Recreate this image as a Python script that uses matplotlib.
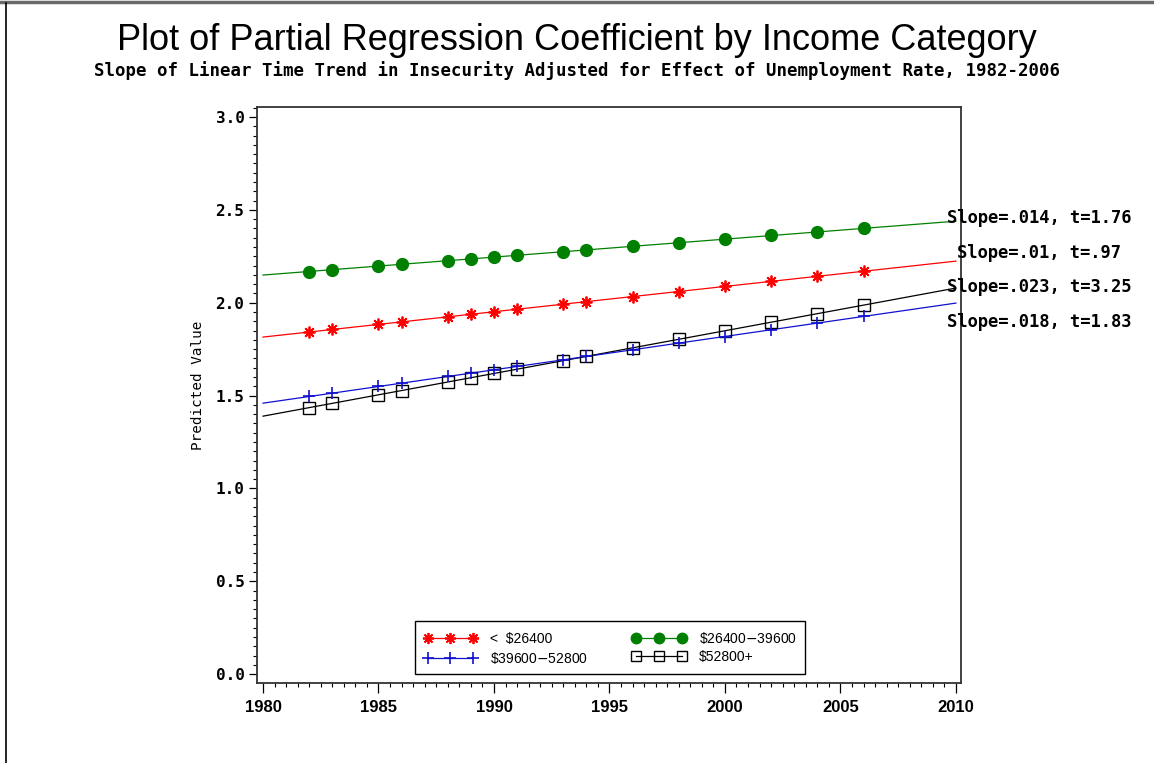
import matplotlib
matplotlib.use("Agg")
import matplotlib.pyplot as plt
from matplotlib.lines import Line2D
from matplotlib.ticker import MultipleLocator

# Survey years with predicted values for each income group
years = [1982, 1983, 1985, 1986, 1988, 1989, 1990, 1991,
         1993, 1994, 1996, 1998, 2000, 2002, 2004, 2006]

pred_lt_26400 = [1.842, 1.856, 1.883, 1.897, 1.924, 1.938, 1.951, 1.965,
                 1.992, 2.006, 2.033, 2.060, 2.088, 2.115, 2.142, 2.169]
pred_26400_39600 = [2.168, 2.178, 2.197, 2.207, 2.226, 2.236, 2.246, 2.255,
                    2.275, 2.284, 2.304, 2.323, 2.342, 2.362, 2.381, 2.400]
pred_39600_52800 = [1.495, 1.513, 1.549, 1.567, 1.603, 1.621, 1.639, 1.657,
                    1.693, 1.711, 1.747, 1.782, 1.818, 1.854, 1.890, 1.926]
pred_52800_plus = [1.435, 1.458, 1.504, 1.527, 1.573, 1.596, 1.619, 1.642,
                   1.688, 1.711, 1.757, 1.803, 1.849, 1.895, 1.941, 1.987]

# Fitted trend lines evaluated at the ends of the axis range
trend_years = [1980, 2010]
trend_lt_26400 = [1.815, 2.224]
trend_26400_39600 = [2.149, 2.439]
trend_39600_52800 = [1.459, 1.998]
trend_52800_plus = [1.389, 2.079]

group_labels = [r"<  \$26400", r"\$26400$-$39600", r"\$39600$-$52800", r"\$52800+"]
slope_labels = ["Slope=.014, t=1.76", "Slope=.01, t=.97",
                "Slope=.023, t=3.25", "Slope=.018, t=1.83"]
slope_label_y = [2.456, 2.267, 2.084, 1.896]

x_ticks = [1980, 1985, 1990, 1995, 2000, 2005, 2010]
y_ticks = [0.0, 0.5, 1.0, 1.5, 2.0, 2.5, 3.0]

W, H = 1154, 763
fig = plt.figure(figsize=(W / 100, H / 100), dpi=100)
fig.patch.set_facecolor("white")

narrow = ["Liberation Sans Narrow", "Liberation Sans", "DejaVu Sans"]
mono = ["DejaVu Sans Mono"]

# page border
fig.add_artist(Line2D([0, 1], [1 - 1.5 / H, 1 - 1.5 / H], transform=fig.transFigure,
                      color="#6a6a6a", lw=2.5))
fig.add_artist(Line2D([6 / W, 6 / W], [0, 1 - 3 / H], transform=fig.transFigure,
                      color="black", lw=1.2))

fig.text(0.5, 1 - 40 / H, "Plot of Partial Regression Coefficient by Income Category",
         ha="center", va="center", fontsize=26, family=narrow)
fig.text(0.5, 1 - 71 / H,
         "Slope of Linear Time Trend in Insecurity Adjusted for Effect of Unemployment Rate, 1982-2006",
         ha="center", va="center", fontsize=12.5, family=mono, fontweight="bold")

left, right, top, bottom = 257, 961, 107, 683
ax = fig.add_axes([left / W, 1 - bottom / H, (right - left) / W, (bottom - top) / H])
ax.set_xlim(1979.74, 2010.22)
ax.set_ylim(-0.048, 3.054)

series = [
    ("red", (8, 2, 0), 8.5, 1.3, "red", trend_lt_26400, pred_lt_26400),
    ("#008000", "o", 8.5, 1.0, "#008000", trend_26400_39600, pred_26400_39600),
    ("black", "s", 8, 1.0, "none", trend_52800_plus, pred_52800_plus),
    ("#1010d0", "+", 8, 1.2, "#1010d0", trend_39600_52800, pred_39600_52800),
]
for color, marker, ms, mew, mfc, trend, pred in series:
    ax.plot(trend_years, trend, color=color, lw=0.9, zorder=2)
    ax.plot(years, pred, ls="none", marker=marker, ms=ms, mew=mew,
            mec=color, mfc=mfc, zorder=3)

for txt, yv in zip(slope_labels, slope_label_y):
    ax.text(2013.6, yv, txt, ha="center", va="center", fontsize=12.3,
            family=mono, fontweight="bold", clip_on=False)

ax.xaxis.set_minor_locator(MultipleLocator(0.5))
ax.yaxis.set_minor_locator(MultipleLocator(0.05))
ax.set_xticks(x_ticks)
ax.set_yticks(y_ticks)
ax.set_xticklabels([str(v) for v in x_ticks], fontsize=12, family=narrow, fontweight="bold")
ax.set_yticklabels([f"{v:.1f}" for v in y_ticks], fontsize=11.5, family=mono, fontweight="bold")
ax.tick_params(axis="x", which="major", direction="out", length=7.5, width=0.9, pad=5)
ax.tick_params(axis="x", which="minor", direction="out", length=3, width=0.8)
ax.tick_params(axis="y", which="major", direction="out", length=6, width=0.9, pad=3)
ax.tick_params(axis="y", which="minor", direction="out", length=3, width=0.8)
for sp in ax.spines.values():
    sp.set_color("#333333")
    sp.set_linewidth(1.3)

fig.text(198 / W, 1 - 385 / H, "Predicted Value", rotation=90, ha="center", va="center",
         fontsize=10.3, family=mono)

# legend rows: red, green / blue, black
handles = [
    Line2D([], [], color="red", lw=0.9, marker=(8, 2, 0), ms=8, mew=1.3, mec="red"),
    Line2D([], [], color="#1010d0", lw=0.9, marker="+", ms=8, mew=1.2, mec="#1010d0"),
    Line2D([], [], color="#008000", lw=0.9, marker="o", ms=7.5, mec="#008000", mfc="#008000"),
    Line2D([], [], color="black", lw=0.9, marker="s", ms=7, mfc="none", mec="black"),
]
labels = [group_labels[0], group_labels[2], group_labels[1], group_labels[3]]
x0 = (415 - left) / (right - left)
x1 = (805 - left) / (right - left)
y0 = (bottom - 674) / (bottom - top)
leg = ax.legend(handles, labels, ncol=2, numpoints=3, loc="lower left",
                bbox_to_anchor=(x0, y0, x1 - x0, 0.09), mode="expand", borderaxespad=0,
                prop={"family": narrow, "size": 10}, handlelength=3.9, handletextpad=0.9,
                labelspacing=0.3, borderpad=0.6, fancybox=False, framealpha=1,
                edgecolor="black")
leg.get_frame().set_linewidth(1.0)

fig.savefig("out.png", dpi=100, facecolor="white")
